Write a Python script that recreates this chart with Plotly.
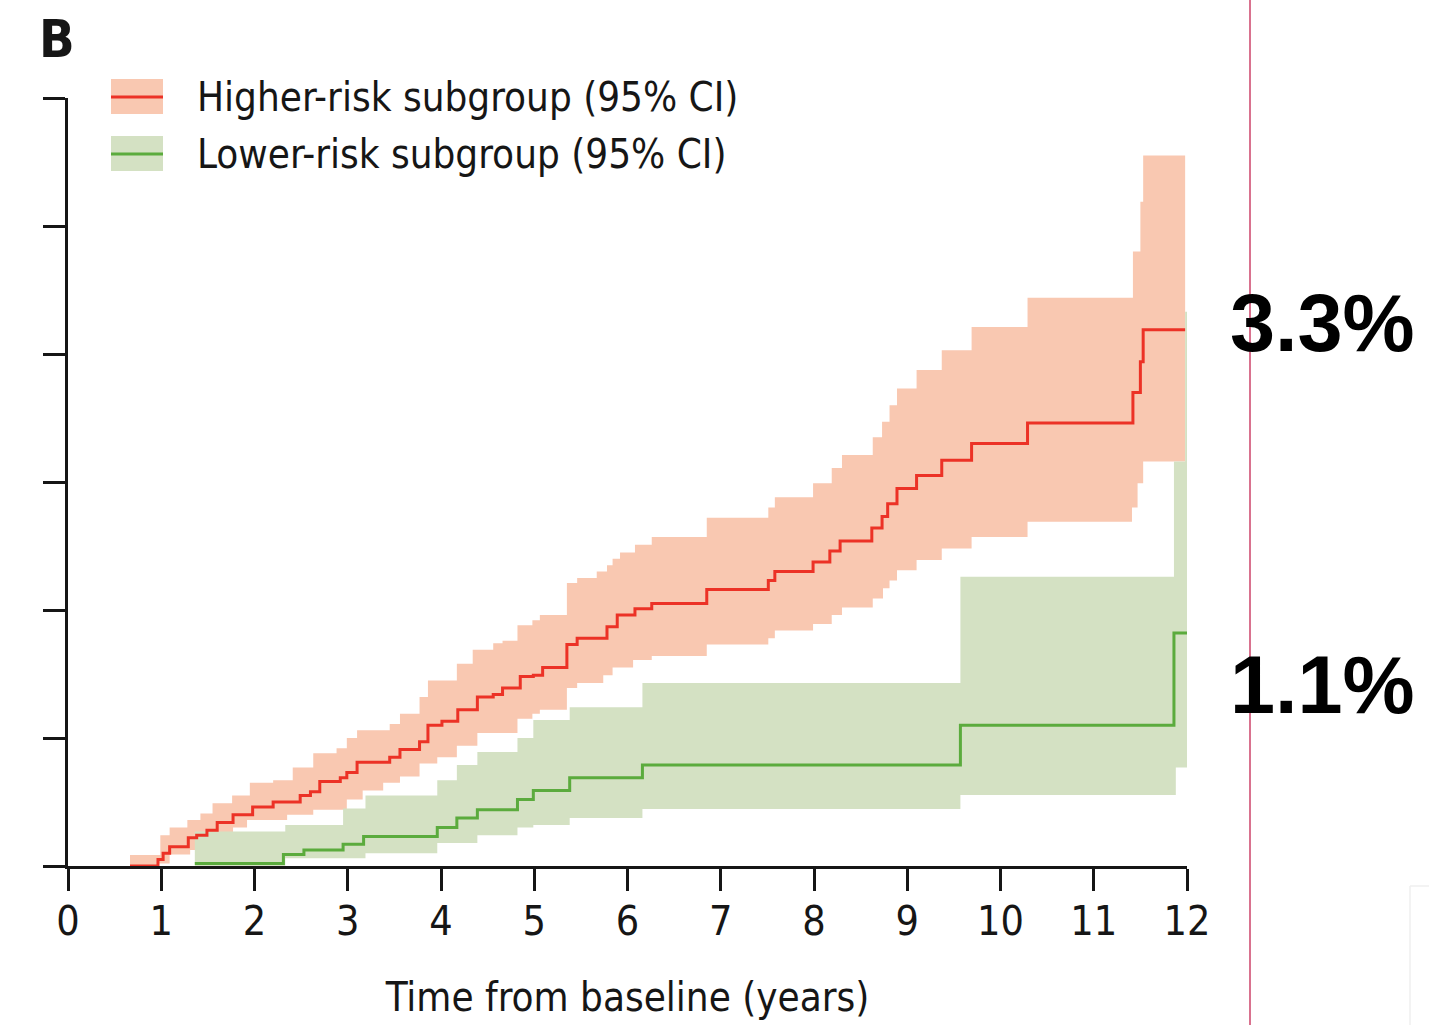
import plotly.graph_objects as go

# Cumulative incidence (%) by years from baseline, step functions.
# Higher-risk subgroup: estimate, lower and upper 95% CI
hi_t = [0.665, 0.965, 1.02, 1.09, 1.29, 1.38, 1.49, 1.60, 1.77, 1.98,
        2.20, 2.49, 2.60, 2.70, 2.92, 2.99, 3.10, 3.45, 3.56, 3.77,
        3.86, 4.01, 4.18, 4.39, 4.56, 4.66, 4.85, 4.99, 5.09, 5.35,
        5.46, 5.78, 5.89, 6.08, 6.26, 6.85, 7.51, 7.58, 7.99, 8.17,
        8.28, 8.62, 8.73, 8.79, 8.89, 9.10, 9.37, 9.69, 10.29, 11.42,
        11.50, 11.53, 11.98]
hi_v = [0.0, 0.05, 0.10, 0.15, 0.22, 0.24, 0.28, 0.34, 0.40, 0.46,
        0.50, 0.55, 0.58, 0.66, 0.69, 0.73, 0.81, 0.85, 0.91, 0.97,
        1.10, 1.13, 1.22, 1.32, 1.34, 1.39, 1.48, 1.49, 1.55, 1.73,
        1.78, 1.87, 1.96, 2.01, 2.05, 2.16, 2.23, 2.30, 2.375, 2.46,
        2.54, 2.64, 2.73, 2.83, 2.95, 3.05, 3.17, 3.30, 3.46, 3.70,
        3.94, 4.19, 4.19]

hi_up_t = [0.665, 0.99, 1.09, 1.28, 1.42, 1.55, 1.76, 1.95, 2.20, 2.41,
           2.63, 2.88, 2.99, 3.10, 3.45, 3.56, 3.77, 3.86, 4.17, 4.34,
           4.56, 4.66, 4.82, 4.98, 5.06, 5.35, 5.46, 5.67, 5.78, 5.84,
           5.92, 6.08, 6.26, 6.85, 7.51, 7.58, 7.99, 8.19, 8.30, 8.63,
           8.73, 8.81, 8.89, 9.10, 9.37, 9.69, 10.29, 11.42, 11.50, 11.53,
           11.98]
hi_up_v = [0.086, 0.24, 0.30, 0.36, 0.41, 0.49, 0.55, 0.65, 0.67, 0.77,
           0.88, 0.92, 1.00, 1.06, 1.11, 1.19, 1.32, 1.45, 1.58, 1.69,
           1.74, 1.76, 1.88, 1.92, 1.96, 2.21, 2.25, 2.30, 2.35, 2.40,
           2.45, 2.51, 2.57, 2.72, 2.80, 2.88, 2.99, 3.11, 3.21, 3.35,
           3.47, 3.60, 3.73, 3.875, 4.03, 4.21, 4.44, 4.80, 5.19, 5.55,
           5.55]

hi_lo_t = [0.665, 0.965, 1.09, 1.31, 1.52, 1.77, 1.92, 2.35, 2.63, 2.99,
           3.16, 3.38, 3.56, 3.77, 3.96, 4.17, 4.39, 4.82, 4.98, 5.06,
           5.35, 5.46, 5.74, 5.84, 6.06, 6.26, 6.85, 7.51, 7.58, 7.99,
           8.19, 8.30, 8.63, 8.74, 8.81, 8.89, 9.10, 9.37, 9.69, 10.29,
           11.41, 11.47, 11.53, 11.98]
hi_lo_v = [0.0, 0.02, 0.09, 0.125, 0.20, 0.30, 0.36, 0.40, 0.44, 0.52,
           0.59, 0.65, 0.70, 0.80, 0.85, 0.94, 1.04, 1.15, 1.19, 1.22,
           1.39, 1.43, 1.49, 1.55, 1.61, 1.64, 1.73, 1.78, 1.84, 1.89,
           1.96, 2.02, 2.09, 2.17, 2.23, 2.31, 2.39, 2.48, 2.57, 2.69,
           2.80, 2.99, 3.16, 3.16]

# Lower-risk subgroup: estimate, lower and upper 95% CI
lo_t = [1.36, 2.31, 2.53, 2.95, 3.17, 3.96, 4.17, 4.39, 4.82, 4.99,
        5.38, 6.16, 9.57, 11.86, 12.0]
lo_v = [0.02, 0.09, 0.125, 0.17, 0.23, 0.30, 0.375, 0.44, 0.52, 0.59,
        0.69, 0.79, 1.10, 1.82, 1.82]

lo_up_t = [1.36, 2.33, 2.95, 3.19, 3.96, 4.17, 4.39, 4.82, 4.99, 5.38,
           6.16, 9.57, 11.86, 11.98, 12.0]
lo_up_v = [0.27, 0.32, 0.45, 0.55, 0.67, 0.79, 0.89, 1.00, 1.14, 1.24,
           1.43, 2.26, 3.16, 4.33, 4.33]

lo_lo_t = [1.36, 2.33, 3.19, 3.96, 4.39, 4.82, 4.99, 5.38, 6.16, 9.57,
           11.88, 12.0]
lo_lo_v = [0.0, 0.06, 0.10, 0.18, 0.24, 0.30, 0.32, 0.375, 0.445, 0.555,
           0.77, 0.77]

x_ticks = list(range(0, 13))
y_ticks = list(range(0, 7))
legend_labels = ["Higher-risk subgroup (95% CI)", "Lower-risk subgroup (95% CI)"]
x_title = "Time from baseline (years)"
panel_label = "B"
label_year = 10

RED = "#ec3226"
RED_BAND = "#f9c8b1"
GREEN = "#5bab3d"
GREEN_BAND = "#d4e1c3"
INK = "#161616"
NARROW = "Liberation Sans Narrow, DejaVu Sans Condensed, Arial Narrow, sans-serif"
BOLD = "Liberation Sans, Arial, Helvetica, sans-serif"

W, H = 1429, 1025
L, R, T, B = 68, 242, 98, 159
PW, PH = W - L - R, H - T - B


def px_x(px):
    return (px - L) / PW


def px_y(py):
    return (H - B - py) / PH


def step_value(ts, vs, t):
    val = vs[0]
    for ti, vi in zip(ts, vs):
        if ti <= t:
            val = vi
    return val


fig = go.Figure()


def band(t_lo, v_lo, t_up, v_up, color):
    fig.add_trace(go.Scatter(x=t_lo, y=v_lo, mode="lines", line=dict(width=0, shape="hv"),
                             hoverinfo="skip"))
    fig.add_trace(go.Scatter(x=t_up, y=v_up, mode="lines", line=dict(width=0, shape="hv"),
                             fill="tonexty", fillcolor=color, hoverinfo="skip"))


band(hi_lo_t, hi_lo_v, hi_up_t, hi_up_v, RED_BAND)
band(lo_lo_t, lo_lo_v, lo_up_t, lo_up_v, GREEN_BAND)

fig.add_trace(go.Scatter(x=lo_t, y=lo_v, mode="lines",
                         line=dict(color=GREEN, width=3, shape="hv")))
fig.add_trace(go.Scatter(x=hi_t, y=hi_v, mode="lines",
                         line=dict(color=RED, width=3, shape="hv")))

axis_common = dict(showgrid=False, zeroline=False, showline=True, linecolor=INK, linewidth=2.5,
                   ticks="outside", ticklen=22, tickwidth=2.5, tickcolor=INK)

fig.update_xaxes(range=[0, 12], tickvals=x_ticks, ticktext=[str(v) for v in x_ticks],
                 tickfont=dict(family=NARROW, size=41, color=INK), ticklabelstandoff=-5,
                 title=dict(text=x_title, font=dict(family=NARROW, size=40, color=INK), standoff=40),
                 **axis_common)
fig.update_yaxes(range=[0, 6], tickvals=y_ticks, showticklabels=False, **axis_common)

shapes = []
annotations = []

# legend swatches: band rectangle with the estimate line through it
for i, (band_c, line_c, label) in enumerate(zip([RED_BAND, GREEN_BAND], [RED, GREEN], legend_labels)):
    cy = 97 + i * 57
    shapes.append(dict(type="rect", xref="paper", yref="paper",
                       x0=px_x(111), x1=px_x(163), y0=px_y(cy - 18), y1=px_y(cy + 17),
                       fillcolor=band_c, line=dict(width=0)))
    shapes.append(dict(type="line", xref="paper", yref="paper",
                       x0=px_x(111), x1=px_x(163), y0=px_y(cy), y1=px_y(cy),
                       line=dict(color=line_c, width=3)))
    annotations.append(dict(text=label, xref="paper", yref="paper", x=px_x(195), y=px_y(cy),
                            xanchor="left", yanchor="middle", showarrow=False,
                            font=dict(family=NARROW, size=40, color=INK)))

# panel letter
annotations.append(dict(text="<b>%s</b>" % panel_label, xref="paper", yref="paper",
                        x=px_x(37), y=px_y(39), xanchor="left", yanchor="middle", showarrow=False,
                        font=dict(family=NARROW, size=52, color=INK)))

# thin vertical divider on the right
shapes.append(dict(type="line", xref="paper", yref="paper", x0=px_x(1250), x1=px_x(1250),
                   y0=px_y(H), y1=px_y(0), line=dict(color="#d9728f", width=2)))
shapes.append(dict(type="line", xref="paper", yref="paper", x0=px_x(1410), x1=px_x(1410),
                   y0=px_y(H), y1=px_y(886), line=dict(color="#efefef", width=1.5)))
shapes.append(dict(type="line", xref="paper", yref="paper", x0=px_x(1410), x1=px_x(W),
                   y0=px_y(886), y1=px_y(886), line=dict(color="#efefef", width=1.5)))

# risk at the labelled year for each subgroup
for ts, vs, cy in [(hi_t, hi_v, 323), (lo_t, lo_v, 685)]:
    annotations.append(dict(text="<b>%.1f%%</b>" % step_value(ts, vs, label_year),
                            xref="paper", yref="paper", x=px_x(1322), y=px_y(cy),
                            xanchor="center", yanchor="middle", showarrow=False,
                            font=dict(family=BOLD, size=81, color="#000000")))

fig.update_layout(width=W, height=H, margin=dict(l=L, r=R, t=T, b=B),
                  plot_bgcolor="white", paper_bgcolor="white", showlegend=False,
                  shapes=shapes, annotations=annotations)

fig.write_html("out.html")
